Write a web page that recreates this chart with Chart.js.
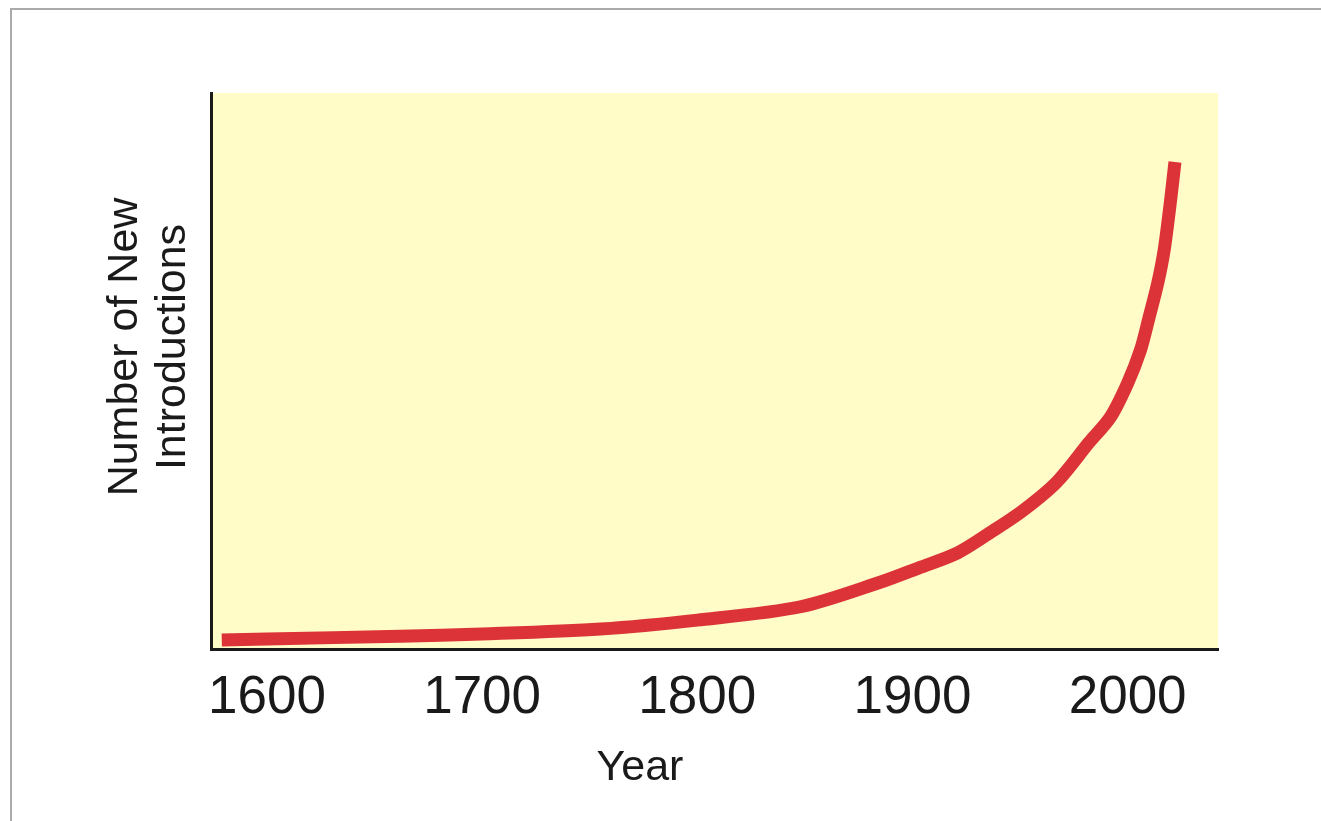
<!DOCTYPE html>
<html>
<head>
<meta charset="utf-8">
<script src="https://cdn.jsdelivr.net/npm/chart.js@4"></script>
<style>
  body { margin: 0; background: #fff; }
  .wrap { position: relative; width: 1321px; height: 821px; }
  .frame { position: absolute; left: 10px; top: 8px; right: 0; bottom: 0; border-top: 2px solid #aaa; border-left: 2px solid #aaa; pointer-events: none; }
  canvas { position: absolute; left: 0; top: 0; }
</style>
</head>
<body>
<div class="wrap">
  <canvas class="grafico" width="1321" height="821"></canvas>
  <div class="frame"></div>
</div>
<script>
const canvas = document.querySelector('.grafico');

// curve (y is an arbitrary 0-100 scale)
const years = [1579, 1600, 1662, 1700, 1755, 1800, 1848, 1885, 1903, 1921, 1936, 1951, 1967, 1982, 1992, 2000, 2006, 2010, 2014, 2017, 2020, 2022];
const introductions = [1.6, 1.8, 2.3, 2.7, 3.6, 5.2, 7.6, 12.0, 14.6, 17.3, 20.9, 24.8, 30.0, 37.1, 41.7, 47.8, 53.8, 59.7, 65.8, 71.8, 80.8, 87.6];
const yearTicks = [1600, 1700, 1800, 1900, 2000];

const yTitle = ['Number of New', 'Introductions'];
const xTitle = 'Year';

const font = "'Liberation Sans', Arial, sans-serif";

const plotBackground = {
    id: 'plotBackground',
    beforeDraw(chart) {
        const { ctx, chartArea } = chart;
        ctx.save();
        ctx.fillStyle = '#fffcc8';
        ctx.fillRect(chartArea.left, chartArea.top, chartArea.right - chartArea.left, chartArea.bottom - chartArea.top);
        ctx.restore();
    }
};

// axis titles sit off-centre in the original, so draw them by hand
const axisTitles = {
    id: 'axisTitles',
    afterDraw(chart) {
        const ctx = chart.ctx;
        ctx.save();
        ctx.fillStyle = '#1a1a1a';
        ctx.font = `43px ${font}`;
        ctx.textAlign = 'center';
        ctx.textBaseline = 'alphabetic';
        ctx.fillText(xTitle, 640, 780);
        [137, 185].forEach((x, i) => {
            ctx.save();
            ctx.translate(x, 347);
            ctx.rotate(-Math.PI / 2);
            ctx.fillText(yTitle[i], 0, 0);
            ctx.restore();
        });
        ctx.restore();
    }
};

const config = {
    type: 'line',
    data: {
        datasets: [{
            data: years.map((y, i) => ({ x: y, y: introductions[i] })),
            borderColor: '#dc3338',
            borderWidth: 13,
            pointRadius: 0,
            tension: 0.3,
            fill: false
        }]
    },
    options: {
        responsive: false,
        animation: false,
        layout: { padding: { left: 211, top: 93, right: 103, bottom: 0 } },
        plugins: { legend: { display: false }, tooltip: { enabled: false } },
        scales: {
            x: {
                type: 'linear',
                min: 1574,
                max: 2042,
                afterBuildTicks: (scale) => { scale.ticks = yearTicks.map(v => ({ value: v })); },
                afterFit: (scale) => { scale.height = 172; },
                grid: { display: false, drawTicks: false },
                border: { display: true, color: '#1a1a1a', width: 3 },
                ticks: {
                    color: '#1a1a1a',
                    font: { family: font, size: 53 },
                    padding: 18,
                    maxRotation: 0,
                    callback: (value) => String(value)
                }
            },
            y: {
                min: 0,
                max: 100,
                grid: { display: false, drawTicks: false },
                border: { display: true, color: '#1a1a1a', width: 3 },
                ticks: { display: false }
            }
        }
    },
    plugins: [plotBackground, axisTitles]
};

const myChart = new Chart(canvas, config);
</script>
</body>
</html>
